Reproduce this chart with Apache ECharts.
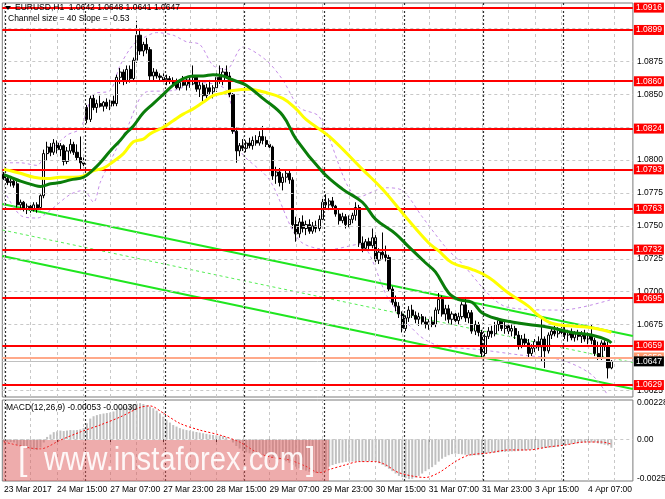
<!DOCTYPE html>
<html><head><meta charset="utf-8">
<script src="https://cdn.jsdelivr.net/npm/echarts@6/dist/echarts.min.js"></script>
<style>html,body{margin:0;padding:0;background:#fff}#c{width:665px;height:499px}</style>
</head><body><div id="c"></div><script>
// ---------- DATA ----------
const xLabels = ['23 Mar 2017','24 Mar 15:00','27 Mar 07:00','27 Mar 23:00','28 Mar 15:00','29 Mar 07:00','29 Mar 23:00','30 Mar 15:00','31 Mar 07:00','31 Mar 23:00','3 Apr 15:00','4 Apr 07:00'];
const labelStep = 16;           // bars between time labels
const gridStep = 8;             // bars between vertical grid lines
const daySeparators = [0.5,24.5,48.5,72.5,96.5,120.5,144.5,168.5];
const barCount = 184, slotCount = 190;

const open = [1.0789,1.0786,1.0783,1.0784,1.0782,1.0766,1.0768,1.0763,1.0765,1.0762,1.0766,1.0764,1.0773,1.0805,1.0810,1.0806,1.0813,1.0808,1.0811,1.0799,1.0807,1.0812,1.0806,1.0802,1.0798,1.0840,1.0831,1.0847,1.0840,1.0843,1.0841,1.0844,1.0841,1.0845,1.0843,1.0863,1.0867,1.0860,1.0869,1.0862,1.0876,1.0895,1.0883,1.0888,1.0884,1.0864,1.0867,1.0864,1.0863,1.0861,1.0862,1.0860,1.0858,1.0855,1.0859,1.0857,1.0861,1.0858,1.0863,1.0854,1.0857,1.0849,1.0855,1.0852,1.0855,1.0863,1.0860,1.0867,1.0864,1.0850,1.0822,1.0807,1.0811,1.0809,1.0813,1.0811,1.0815,1.0813,1.0818,1.0815,1.0812,1.0810,1.0788,1.0791,1.0783,1.0787,1.0790,1.0785,1.0751,1.0744,1.0753,1.0748,1.0751,1.0746,1.0750,1.0748,1.0755,1.0768,1.0766,1.0769,1.0765,1.0759,1.0754,1.0757,1.0751,1.0755,1.0758,1.0764,1.0737,1.0733,1.0738,1.0735,1.0741,1.0724,1.0730,1.0728,1.0726,1.0702,1.0692,1.0689,1.0683,1.0672,1.0680,1.0686,1.0682,1.0679,1.0681,1.0677,1.0675,1.0677,1.0675,1.0686,1.0694,1.0683,1.0687,1.0679,1.0683,1.0678,1.0681,1.0690,1.0680,1.0684,1.0670,1.0675,1.0669,1.0653,1.0666,1.0670,1.0668,1.0675,1.0678,1.0672,1.0674,1.0670,1.0672,1.0667,1.0659,1.0664,1.0661,1.0653,1.0657,1.0662,1.0658,1.0664,1.0655,1.0667,1.0670,1.0668,1.0671,1.0669,1.0667,1.0669,1.0665,1.0668,1.0666,1.0668,1.0664,1.0667,1.0663,1.0653,1.0650,1.0661,1.0659,1.0642];
const close = [1.0786,1.0783,1.0784,1.0781,1.0766,1.0768,1.0763,1.0765,1.0762,1.0766,1.0763,1.0773,1.0805,1.0810,1.0806,1.0813,1.0808,1.0811,1.0799,1.0807,1.0812,1.0806,1.0802,1.0798,1.0797,1.0831,1.0847,1.0840,1.0843,1.0841,1.0844,1.0841,1.0845,1.0843,1.0863,1.0867,1.0860,1.0869,1.0862,1.0876,1.0895,1.0883,1.0888,1.0884,1.0864,1.0867,1.0864,1.0863,1.0861,1.0862,1.0860,1.0858,1.0855,1.0859,1.0857,1.0861,1.0858,1.0863,1.0854,1.0857,1.0849,1.0855,1.0852,1.0855,1.0863,1.0860,1.0867,1.0864,1.0850,1.0822,1.0807,1.0811,1.0809,1.0813,1.0811,1.0815,1.0813,1.0818,1.0815,1.0812,1.0810,1.0788,1.0791,1.0783,1.0787,1.0790,1.0785,1.0751,1.0744,1.0753,1.0748,1.0751,1.0746,1.0750,1.0748,1.0755,1.0768,1.0766,1.0769,1.0765,1.0759,1.0754,1.0757,1.0751,1.0755,1.0758,1.0764,1.0737,1.0733,1.0738,1.0735,1.0741,1.0724,1.0730,1.0728,1.0726,1.0702,1.0692,1.0689,1.0683,1.0672,1.0680,1.0686,1.0682,1.0679,1.0681,1.0677,1.0675,1.0677,1.0675,1.0686,1.0694,1.0683,1.0687,1.0679,1.0683,1.0678,1.0681,1.0690,1.0680,1.0684,1.0670,1.0675,1.0669,1.0653,1.0666,1.0670,1.0668,1.0675,1.0678,1.0672,1.0674,1.0670,1.0672,1.0667,1.0659,1.0664,1.0661,1.0653,1.0657,1.0662,1.0658,1.0664,1.0655,1.0667,1.0670,1.0668,1.0671,1.0669,1.0667,1.0669,1.0665,1.0668,1.0666,1.0668,1.0664,1.0667,1.0663,1.0653,1.0650,1.0661,1.0659,1.0642,1.0647];
const high = [1.0791,1.0788,1.0786,1.0787,1.0784,1.0770,1.0769,1.0767,1.0768,1.0768,1.0768,1.0774,1.0808,1.0814,1.0813,1.0816,1.0815,1.0813,1.0812,1.0810,1.0816,1.0814,1.0812,1.0818,1.0802,1.0842,1.0849,1.0850,1.0846,1.0849,1.0845,1.0847,1.0846,1.0849,1.0865,1.0870,1.0869,1.0872,1.0872,1.0878,1.0906,1.0900,1.0890,1.0893,1.0886,1.0870,1.0869,1.0866,1.0866,1.0865,1.0864,1.0863,1.0862,1.0861,1.0864,1.0862,1.0863,1.0872,1.0864,1.0860,1.0859,1.0858,1.0861,1.0857,1.0866,1.0872,1.0870,1.0872,1.0867,1.0851,1.0825,1.0813,1.0816,1.0815,1.0817,1.0818,1.0819,1.0822,1.0826,1.0818,1.0814,1.0811,1.0795,1.0794,1.0790,1.0793,1.0792,1.0787,1.0757,1.0756,1.0758,1.0754,1.0755,1.0753,1.0754,1.0758,1.0772,1.0774,1.0771,1.0772,1.0766,1.0763,1.0760,1.0759,1.0758,1.0760,1.0768,1.0766,1.0742,1.0740,1.0741,1.0748,1.0743,1.0733,1.0745,1.0735,1.0728,1.0704,1.0697,1.0692,1.0685,1.0682,1.0689,1.0690,1.0685,1.0684,1.0683,1.0681,1.0679,1.0681,1.0688,1.0699,1.0697,1.0690,1.0690,1.0685,1.0686,1.0684,1.0692,1.0696,1.0686,1.0686,1.0678,1.0677,1.0671,1.0668,1.0673,1.0674,1.0677,1.0680,1.0679,1.0677,1.0676,1.0675,1.0674,1.0670,1.0667,1.0668,1.0664,1.0660,1.0664,1.0666,1.0680,1.0666,1.0669,1.0672,1.0674,1.0673,1.0673,1.0673,1.0671,1.0672,1.0670,1.0671,1.0670,1.0671,1.0669,1.0675,1.0665,1.0662,1.0663,1.0663,1.0662,1.0648];
const low = [1.0785,1.0781,1.0780,1.0779,1.0764,1.0762,1.0761,1.0759,1.0760,1.0761,1.0760,1.0762,1.0771,1.0800,1.0803,1.0804,1.0805,1.0803,1.0796,1.0797,1.0805,1.0804,1.0800,1.0793,1.0794,1.0828,1.0829,1.0838,1.0836,1.0840,1.0837,1.0839,1.0838,1.0841,1.0841,1.0858,1.0857,1.0858,1.0859,1.0860,1.0874,1.0880,1.0879,1.0881,1.0861,1.0860,1.0862,1.0860,1.0859,1.0857,1.0858,1.0856,1.0854,1.0853,1.0856,1.0853,1.0855,1.0857,1.0852,1.0848,1.0845,1.0847,1.0850,1.0847,1.0852,1.0858,1.0857,1.0862,1.0848,1.0820,1.0798,1.0803,1.0807,1.0806,1.0809,1.0808,1.0811,1.0811,1.0812,1.0810,1.0808,1.0785,1.0782,1.0780,1.0777,1.0783,1.0782,1.0748,1.0738,1.0741,1.0745,1.0743,1.0744,1.0744,1.0745,1.0746,1.0753,1.0763,1.0762,1.0763,1.0757,1.0751,1.0752,1.0748,1.0749,1.0752,1.0754,1.0734,1.0730,1.0731,1.0732,1.0733,1.0722,1.0721,1.0725,1.0723,1.0700,1.0690,1.0685,1.0680,1.0669,1.0670,1.0677,1.0680,1.0676,1.0674,1.0675,1.0672,1.0671,1.0673,1.0673,1.0683,1.0681,1.0678,1.0676,1.0675,1.0676,1.0675,1.0679,1.0677,1.0676,1.0668,1.0667,1.0666,1.0650,1.0651,1.0664,1.0665,1.0666,1.0670,1.0670,1.0668,1.0667,1.0666,1.0664,1.0656,1.0657,1.0659,1.0650,1.0651,1.0654,1.0655,1.0647,1.0642,1.0653,1.0664,1.0666,1.0665,1.0666,1.0664,1.0662,1.0663,1.0662,1.0663,1.0661,1.0662,1.0660,1.0660,1.0651,1.0648,1.0648,1.0655,1.0634,1.0641];

// moving averages, read at sampled bars: [bar, price]
const maGreen = [[0,1.0789],[2,1.0787],[5,1.0784],[9,1.0781],[11,1.0780],[14,1.0782],[17,1.0783],[20,1.0785],[24,1.0787],[27,1.0793],[29,1.0798],[32,1.0807],[35,1.0815],[37,1.0821],[39,1.0826],[42,1.0836],[45,1.0843],[48,1.0850],[51,1.0857],[54,1.0862],[57,1.0864],[60,1.0864],[63,1.0865],[66,1.0864],[68,1.0862],[70,1.0860],[73,1.0857],[78,1.0847],[84,1.0834],[88,1.0816],[96,1.0791],[102,1.0778],[108,1.0768],[112,1.0755],[118,1.0744],[122,1.0734],[127,1.0722],[130,1.0715],[134,1.0699],[137,1.0694],[141,1.0692],[144,1.0684],[149,1.0679],[153,1.0677],[158,1.0675],[164,1.0673],[171,1.0669],[177,1.0667],[182,1.0663],[183,1.0661]];
const maYellow = [[0,1.0793],[2,1.0792],[5,1.0790],[9,1.0787],[13,1.0786],[17,1.0787],[21,1.0787],[24,1.0788],[27,1.0792],[30,1.0794],[33,1.0799],[36,1.0805],[39,1.0814],[42,1.0816],[44,1.0820],[48,1.0825],[51,1.0830],[54,1.0835],[57,1.0839],[60,1.0844],[63,1.0849],[66,1.0851],[69,1.0853],[74,1.0854],[78,1.0852],[84,1.0847],[88,1.0839],[91,1.0831],[98,1.0818],[108,1.0793],[114,1.0778],[121,1.0757],[128,1.0737],[131,1.0731],[135,1.0722],[141,1.0717],[146,1.0711],[152,1.0699],[158,1.0689],[161,1.0682],[165,1.0676],[170,1.0674],[176,1.0673],[180,1.0671],[183,1.0669]];
// envelope bands (dashed violet), sampled
const bandUpper = [[0,1.0798],[5,1.0798],[10,1.0796],[12,1.0802],[19,1.0819],[23,1.0824],[27,1.0850],[32,1.0853],[35,1.0872],[39,1.0888],[42,1.0893],[46,1.0897],[51,1.0895],[55,1.0890],[59,1.0888],[63,1.0872],[67,1.0869],[72,1.0886],[79,1.0876],[84,1.0861],[89,1.0840],[95,1.0833],[107,1.0772],[115,1.0779],[120,1.0777],[126,1.0757],[133,1.0734],[137,1.0724],[152,1.0688],[168,1.0686],[183,1.0694]];
const bandLower = [[0,1.0777],[5,1.0758],[10,1.0756],[14,1.0762],[20,1.0774],[24,1.0777],[27,1.0768],[29,1.0783],[32,1.0799],[37,1.0824],[43,1.0852],[51,1.0853],[59,1.0859],[67,1.0853],[71,1.0808],[80,1.0785],[89,1.0739],[98,1.0732],[107,1.0736],[116,1.0694],[125,1.0667],[131,1.0659],[143,1.0656],[155,1.0652],[168,1.0648],[177,1.0637],[182,1.0621]];
// regression channel (start/end of the channel at left and right edge)
const channelUpper = [[-0.5,1.07666],[189.5,1.06663]];
const channelMiddle = [[-0.5,1.07469],[189.5,1.06461]];
const channelLower = [[-0.5,1.07271],[189.5,1.06260]];

const levels = [1.0916,1.0899,1.0860,1.0824,1.0793,1.0763,1.0732,1.0695,1.0659,1.0629];
const salmonLevel = 1.0650;
const bidPrice = 1.0647;
const priceTicks = [1.0625,1.0650,1.0675,1.0700,1.0725,1.0750,1.0775,1.0800,1.0825,1.0850,1.0875,1.0900];
const priceRange = [1.06199,1.09195];

const macdMain = [-0.00015,-0.00017,-0.00018,-0.00020,-0.00035,-0.00045,-0.00052,-0.00058,-0.00062,-0.00065,-0.00067,-0.00052,-0.00020,0.00015,0.00030,0.00045,0.00050,0.00055,0.00052,0.00055,0.00058,0.00057,0.00058,0.00062,0.00070,0.00100,0.00130,0.00145,0.00152,0.00158,0.00162,0.00165,0.00168,0.00175,0.00188,0.00198,0.00203,0.00208,0.00213,0.00218,0.00224,0.00227,0.00222,0.00215,0.00205,0.00195,0.00180,0.00163,0.00142,0.00120,0.00105,0.00090,0.00080,0.00070,0.00063,0.00058,0.00054,0.00050,0.00046,0.00042,0.00038,0.00034,0.00030,0.00027,0.00025,0.00022,0.00020,0.00012,0.00000,-0.00020,-0.00042,-0.00058,-0.00074,-0.00082,-0.00088,-0.00093,-0.00095,-0.00097,-0.00099,-0.00105,-0.00110,-0.00117,-0.00122,-0.00126,-0.00130,-0.00138,-0.00148,-0.00160,-0.00172,-0.00182,-0.00190,-0.00197,-0.00204,-0.00210,-0.00212,-0.00212,-0.00205,-0.00190,-0.00172,-0.00162,-0.00155,-0.00150,-0.00146,-0.00142,-0.00140,-0.00140,-0.00138,-0.00140,-0.00142,-0.00140,-0.00138,-0.00136,-0.00140,-0.00150,-0.00160,-0.00172,-0.00185,-0.00200,-0.00215,-0.00230,-0.00238,-0.00245,-0.00250,-0.00248,-0.00240,-0.00230,-0.00215,-0.00200,-0.00188,-0.00175,-0.00160,-0.00140,-0.00122,-0.00110,-0.00100,-0.00093,-0.00090,-0.00092,-0.00094,-0.00097,-0.00100,-0.00102,-0.00100,-0.00100,-0.00098,-0.00090,-0.00085,-0.00084,-0.00083,-0.00082,-0.00080,-0.00079,-0.00078,-0.00076,-0.00075,-0.00074,-0.00072,-0.00070,-0.00067,-0.00065,-0.00062,-0.00060,-0.00057,-0.00055,-0.00053,-0.00051,-0.00049,-0.00047,-0.00043,-0.00038,-0.00034,-0.00030,-0.00027,-0.00024,-0.00022,-0.00020,-0.00019,-0.00020,-0.00020,-0.00025,-0.00030,-0.00034,-0.00038,-0.00053];
const macdSignal = [[0,-0.00017],[8,-0.00055],[11,-0.00060],[17,-0.00005],[23,0.00046],[29,0.00090],[35,0.00140],[41,0.00200],[44,0.00210],[48,0.00165],[53,0.00100],[59,0.00058],[65,0.00027],[71,-0.00017],[76,-0.00080],[80,-0.00110],[86,-0.00130],[91,-0.00170],[95,-0.00210],[98,-0.00190],[103,-0.00160],[107,-0.00140],[112,-0.00140],[115,-0.00160],[119,-0.00210],[127,-0.00240],[131,-0.00210],[136,-0.00140],[140,-0.00100],[146,-0.00086],[152,-0.00067],[158,-0.00067],[164,-0.00048],[169,-0.00036],[175,-0.00017],[180,-0.00017],[183,-0.00030]];
const macdRange = [-0.00262,0.00247];
const macdTicks = [[0.00228,'0.00228'],[0,'0.00'],[-0.0025,'-0.0025']];

const headerText = 'EURUSD,H1  1.0642 1.0648 1.0641 1.0647';
const channelText = 'Channel size = 40 Slope = -0.53';
const macdText = 'MACD(12,26,9) -0.00053 -0.00030';

// ---------- CHART ----------
const FONT = 'Liberation Sans, Arial, sans-serif';
const chart = echarts.init(document.getElementById('c'), null, {renderer:'canvas'});
const cats = Array.from({length: slotCount}, (_, i) => String(i));
const candles = open.map((o, i) => [o, close[i], low[i], high[i]]);
const vGrid = [];
for (let i = 0; i <= barCount; i += gridStep) vGrid.push({xAxis: i});
const G = {left: 2.3, width: 630.6};

function vLines(xi, yi) {
  return [
    {type:'line', xAxisIndex: xi, yAxisIndex: yi, data: [], silent: true, z: 1,
     markLine: {symbol:'none', silent:true, animation:false, precision:6, label:{show:false},
       lineStyle:{color:'#c8c8c8', type:[3,3], width:1}, data: vGrid}},
    {type:'line', xAxisIndex: xi, yAxisIndex: yi, data: [], silent: true, z: 1,
     markLine: {symbol:'none', silent:true, animation:false, precision:6, label:{show:false},
       lineStyle:{color:'#303030', type:[2,2], width:1.2}, data: daySeparators.map(v => ({xAxis: v}))}}
  ];
}

const option = {
  animation: false,
  backgroundColor: '#ffffff',
  grid: [
    {left: G.left, width: G.width, top: 3, height: 394, show: true, borderColor: '#7a7a7a', borderWidth: 1, backgroundColor:'transparent'},
    {left: G.left, width: G.width, top: 400, height: 81, show: true, borderColor: '#7a7a7a', borderWidth: 1, backgroundColor:'transparent'}
  ],
  xAxis: [
    {type:'category', gridIndex:0, data: cats, boundaryGap: true, show: false},
    {type:'category', gridIndex:1, data: cats, boundaryGap: true,
      axisLine:{show:false}, splitLine:{show:false},
      axisTick:{show:true, alignWithLabel:true, length:3, lineStyle:{color:'#000'},
        interval: (i) => i % labelStep === 0 && i / labelStep < xLabels.length},
      axisLabel:{show:true, interval: (i) => i % labelStep === 0 && i / labelStep < xLabels.length,
        formatter: (v, i) => xLabels[i / labelStep] || '', align:'left', margin:4,
        color:'#000', fontSize:8.5, fontFamily: FONT}},
    {type:'value', gridIndex:0, min:-0.5, max: slotCount - 0.5, show:false},
    {type:'value', gridIndex:1, min:-0.5, max: slotCount - 0.5, show:false}
  ],
  yAxis: [
    {type:'value', gridIndex:0, min: priceRange[0], max: priceRange[1], position:'right',
      axisLine:{show:false}, axisTick:{show:false}, axisLabel:{show:false}, splitLine:{show:false}},
    {type:'value', gridIndex:1, min: macdRange[0], max: macdRange[1], position:'right',
      axisLine:{show:false}, axisTick:{show:false}, axisLabel:{show:false}, splitLine:{show:false}}
  ],
  series: [
    ...vLines(2, 0),
    ...vLines(3, 1),
    // horizontal price grid + tick labels
    {type:'line', xAxisIndex:2, yAxisIndex:0, data:[], z:1,
      markLine:{symbol:'none', silent:true, animation:false, precision:6,
        lineStyle:{color:'#c8c8c8', type:[3,3], width:1},
        label:{show:true, position:'end', distance:4, formatter: p => p.value.toFixed(4),
          color:'#000', fontSize:8.5, fontFamily: FONT},
        data: priceTicks.map(v => ({yAxis: v}))}},
    // macd zero line + labels
    {type:'line', xAxisIndex:3, yAxisIndex:1, data:[], z:1,
      markLine:{symbol:'none', silent:true, animation:false, precision:8,
        label:{show:true, position:'end', distance:4, color:'#000', fontSize:8.5, fontFamily: FONT,
          formatter: p => p.name},
        data: macdTicks.map(t => ({yAxis: t[0], name: t[1],
          lineStyle:{color: t[0] === 0 ? '#c8c8c8' : 'rgba(0,0,0,0)', type:[3,3], width:1}}))}},
    // channel
    {type:'line', xAxisIndex:2, yAxisIndex:0, data: channelMiddle, symbol:'none', z:3,
      lineStyle:{color:'#55ee55', width:1, type:[3,3]}},
    {type:'line', xAxisIndex:2, yAxisIndex:0, data: channelUpper, symbol:'none', z:3,
      lineStyle:{color:'#1fe61f', width:2}},
    {type:'line', xAxisIndex:2, yAxisIndex:0, data: channelLower, symbol:'none', z:3,
      lineStyle:{color:'#1fe61f', width:2}},
    // bands
    {type:'line', xAxisIndex:2, yAxisIndex:0, data: bandUpper, symbol:'none', smooth:0.3, z:3,
      lineStyle:{color:'#c58ee8', width:1, type:[3,3]}},
    {type:'line', xAxisIndex:2, yAxisIndex:0, data: bandLower, symbol:'none', smooth:0.3, z:3,
      lineStyle:{color:'#c58ee8', width:1, type:[3,3]}},
    // candles
    {type:'candlestick', xAxisIndex:0, yAxisIndex:0, data: candles, barWidth: 2.6, z:4,
      itemStyle:{color:'#ffffff', color0:'#000000', borderColor:'#000000', borderColor0:'#000000', borderWidth:1}},
    // moving averages
    {type:'line', xAxisIndex:2, yAxisIndex:0, data: maYellow, symbol:'none', smooth:0.4, z:5,
      lineStyle:{color:'#ffff00', width:3}},
    {type:'line', xAxisIndex:2, yAxisIndex:0, data: maGreen, symbol:'none', smooth:0.4, z:5,
      lineStyle:{color:'#0a7d0a', width:3}},
    // bid line
    {type:'line', xAxisIndex:2, yAxisIndex:0, data:[], z:6,
      markLine:{symbol:'none', silent:true, animation:false, precision:6,
        data:[
          {yAxis: salmonLevel, lineStyle:{color:'#ffa98a', width:2, type:'solid'},
            label:{show:true, position:'end', distance:1, formatter: p => p.value.toFixed(4),
              color:'#fff', backgroundColor:'#ff9a70', padding:[1,2,0,2], fontSize:8.5, fontFamily: FONT}},
          {yAxis: bidPrice, lineStyle:{color:'#c0c0c0', width:1, type:'solid'},
            label:{show:true, position:'end', distance:1, formatter: p => p.value.toFixed(4),
              color:'#fff', backgroundColor:'#000', padding:[1,2,0,2], fontSize:8.5, fontFamily: FONT}}
        ]}},
    // red levels
    {type:'line', xAxisIndex:2, yAxisIndex:0, data:[], z:7,
      markLine:{symbol:'none', silent:true, animation:false, precision:6,
        lineStyle:{color:'#ff0000', width:2, type:'solid'},
        label:{show:true, position:'end', distance:1, formatter: p => p.value.toFixed(4),
          color:'#fff', backgroundColor:'#ff0000', padding:[1,2,0,2], fontSize:8.5, fontFamily: FONT},
        data: levels.map(v => ({yAxis: v}))}},
    // MACD
    {type:'bar', xAxisIndex:1, yAxisIndex:1, data: macdMain, barWidth: 2, z:4,
      itemStyle:{color:'#c0c0c0'}},
    {type:'line', xAxisIndex:3, yAxisIndex:1, data: macdSignal, symbol:'none', smooth:0.3, z:5,
      lineStyle:{color:'#ff0000', width:1, type:[2,2]}}
  ],
  graphic: [
    {type:'polygon', shape:{points:[[5,6],[11,6],[8,10]]}, style:{fill:'#000'}, z:100},
    {type:'text', x:15, y:3, style:{text: headerText, fill:'#000', font:'8.5px ' + FONT}, z:100},
    {type:'text', x:8, y:14, style:{text: channelText, fill:'#000', font:'8.5px ' + FONT}, z:100},
    {type:'text', x:6, y:403, style:{text: macdText, fill:'#000', font:'8.5px ' + FONT}, z:100},
    {type:'rect', shape:{x:3, y:440, width:326, height:41}, style:{fill:'rgba(222,90,90,0.5)'}, z:100},
    {type:'text', x:18, y:444, style:{text:'[', fill:'rgba(255,255,255,0.9)', font:'34px ' + FONT}, z:101},
    {type:'text', x:44, y:444, style:{text:'www.instaforex.com', fill:'rgba(255,255,255,0.9)', font:'34px ' + FONT}, scaleX:0.86, z:101},
    {type:'text', x:306, y:444, style:{text:']', fill:'rgba(255,255,255,0.9)', font:'34px ' + FONT}, z:101}
  ]
};
chart.setOption(option);
</script></body></html>
